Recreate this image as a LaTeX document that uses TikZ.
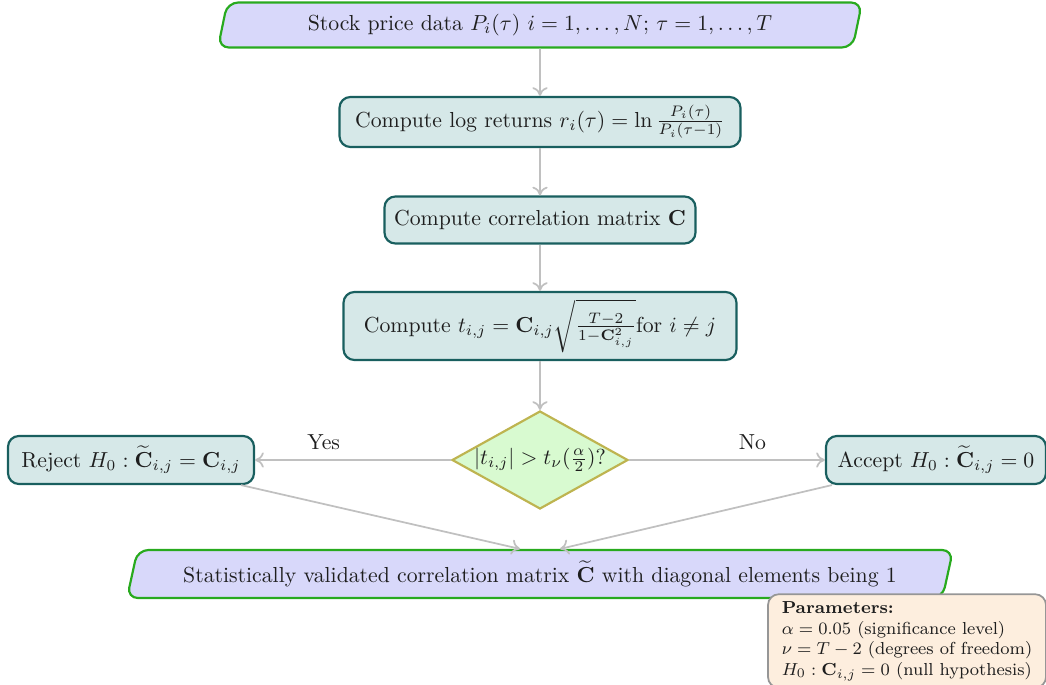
\documentclass[tikz,border=0pt]{standalone}
\usepackage{amsmath,amssymb}
\usetikzlibrary{shapes.geometric,arrows.meta}
\definecolor{ioFill}{RGB}{216,216,250}
\definecolor{ioDraw}{RGB}{40,170,30}
\definecolor{procFill}{RGB}{214,232,232}
\definecolor{procDraw}{RGB}{25,95,95}
\definecolor{decFill}{RGB}{216,250,208}
\definecolor{decDraw}{RGB}{190,180,80}
\definecolor{parFill}{RGB}{253,238,222}
\definecolor{parDraw}{RGB}{150,150,150}
\definecolor{arrCol}{RGB}{192,192,192}
\definecolor{txt}{RGB}{30,30,30}
\tikzset{
  io/.style={trapezium, trapezium left angle=73, trapezium right angle=107,
    trapezium stretches body, draw=ioDraw, fill=ioFill, line width=1pt,
    rounded corners=5pt, text=txt, inner sep=2pt},
  proc/.style={rectangle, draw=procDraw, fill=procFill, line width=1pt,
    rounded corners=5pt, text=txt, inner sep=2pt},
  decis/.style={diamond, draw=decDraw, fill=decFill, line width=1pt,
    text=txt, inner sep=0pt, aspect=1.8},
  parbox/.style={rectangle, draw=parDraw, fill=parFill, line width=0.8pt,
    rounded corners=5pt, text=txt, align=left, font=\footnotesize},
  arr/.style={draw=arrCol, line width=0.8pt, -{To[length=4pt,width=7pt]}},
  lbl/.style={text=txt}
}
\begin{document}
\begin{tikzpicture}[x=0.46pt,y=-0.46pt]
\useasboundingbox (0,0) rectangle (1046,684);
\node[io, minimum width=644*0.46pt, minimum height=45*0.46pt] (data) at (540,25)
  {Stock price data $P_i(\tau)$ $i=1,\ldots,N$; $\tau=1,\ldots,T$};
\node[proc, minimum width=401*0.46pt, minimum height=50*0.46pt] (logret) at (540,122)
  {Compute log returns $r_i(\tau)=\ln\frac{P_i(\tau)}{P_i(\tau-1)}$};
\node[proc, minimum width=311*0.46pt, minimum height=47*0.46pt] (corr) at (540,220)
  {Compute correlation matrix $\mathbf{C}$};
\node[proc, minimum width=393*0.46pt, minimum height=68*0.46pt] (tstat) at (540,326)
  {Compute $t_{i,j}=\mathbf{C}_{i,j}\sqrt{\frac{T-2}{1-\mathbf{C}_{i,j}^2}\vphantom{\Big|}}$for $i\neq j$};
\node[decis, minimum width=176*0.46pt, minimum height=98*0.46pt] (dec) at (540,460)
  {$|t_{i,j}|>t_\nu(\frac{\alpha}{2})$?};
\node[proc, minimum width=246*0.46pt, minimum height=48*0.46pt] (rej) at (131,460)
  {Reject $H_0:\widetilde{\mathbf{C}}_{i,j}=\mathbf{C}_{i,j}$};
\node[proc, minimum width=220*0.46pt, minimum height=48*0.46pt] (acc) at (936,460)
  {Accept $H_0:\widetilde{\mathbf{C}}_{i,j}=0$};
\node[io, minimum width=826*0.46pt, minimum height=48*0.46pt] (final) at (540,574)
  {Statistically validated correlation matrix $\widetilde{\mathbf{C}}$ with diagonal elements being 1};
\node[parbox, minimum width=278*0.46pt, minimum height=82*0.46pt] (params) at (907,641)
  {\textbf{Parameters:}\\ $\alpha=0.05$ (significance level)\\ $\nu=T-2$ (degrees of freedom)\\ $H_0:\mathbf{C}_{i,j}=0$ (null hypothesis)};
\draw[arr] (data) -- (logret);
\draw[arr] (logret) -- (corr);
\draw[arr] (corr) -- (tstat);
\draw[arr] (tstat) -- (dec);
\draw[arr] (dec) -- node[lbl, pos=0.65, above=1pt] {Yes} (rej);
\draw[arr] (dec) -- node[lbl, pos=0.63, above=1pt] {No} (acc);
\draw[arr] ([xshift=-14*0.46pt]rej.south east) -- ([xshift=-20*0.46pt]final.north);
\draw[arr] ([xshift=7*0.46pt]acc.south west) -- ([xshift=20*0.46pt]final.north);
\end{tikzpicture}
\end{document}
